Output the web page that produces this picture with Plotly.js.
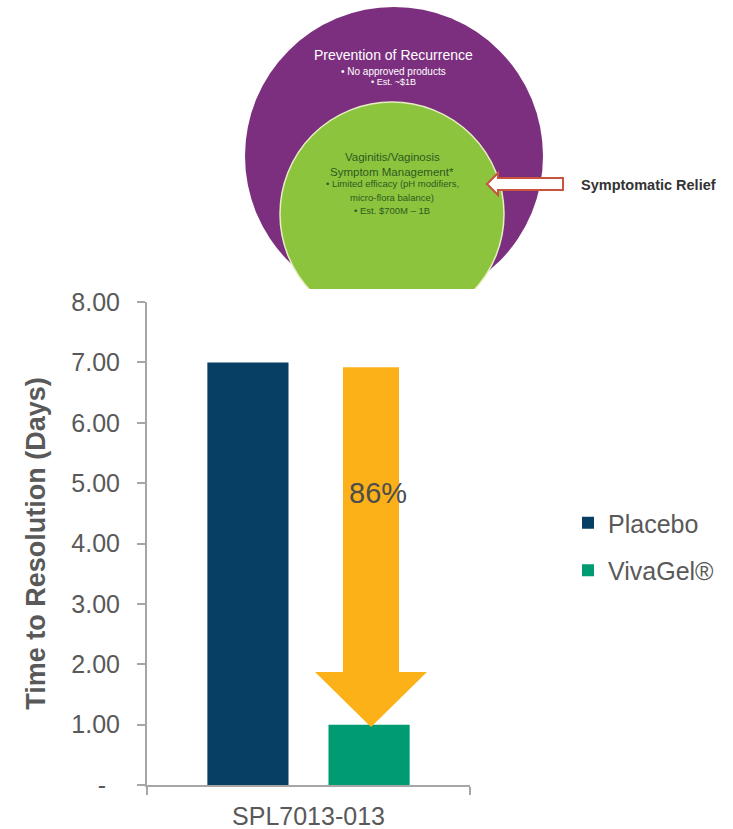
<!DOCTYPE html>
<html>
<head>
<meta charset="utf-8">
<script src="https://cdn.plot.ly/plotly-3.0.1.min.js"></script>
<style>html,body{margin:0;padding:0;background:#fff;}#chart{width:733px;height:829px;}</style>
</head>
<body>
<div id="chart"></div>
<script>
// ---- data ----
const categories = ['SPL7013-013'];
const seriesNames = ['Placebo', 'VivaGel®'];
const placeboValues = [7.00];
const vivagelValues = [1.00];
const yTickVals = [0, 1, 2, 3, 4, 5, 6, 7, 8];
const yTickText = ['-\u00a0\u00a0', '1.00', '2.00', '3.00', '4.00', '5.00', '6.00', '7.00', '8.00'];
const yAxisTitle = 'Time to Resolution (Days)';
const outerCircleText = ['Prevention of Recurrence', '• No approved products', '• Est. ~$1B'];
const innerCircleText = ['Vaginitis/Vaginosis', 'Symptom Management*', '• Limited efficacy (pH modifiers,', 'micro-flora balance)', '• Est. $700M – 1B'];
const calloutText = 'Symptomatic Relief';

// ---- layout helpers ----
const W = 733, H = 829;
const px = x => x / W;
const py = y => 1 - y / H;
const FONT = 'Liberation Sans, Arial, sans-serif';
const GREY = '#595959';

const reduction = Math.round((placeboValues[0] - vivagelValues[0]) / placeboValues[0] * 100) + '%';

// arrow (decorative) in axis units, anchored to bar values
const aCx = 0.1935, aShaft = 0.0867, aHead = 0.1734;
const aTop = placeboValues[0] - 0.08, aTip = vivagelValues[0] - 0.04, aBase = vivagelValues[0] + 0.87;
const arrowPath = 'M' + (aCx - aShaft) + ',' + aTop + ' L' + (aCx + aShaft) + ',' + aTop +
  ' L' + (aCx + aShaft) + ',' + aBase + ' L' + (aCx + aHead) + ',' + aBase +
  ' L' + aCx + ',' + aTip + ' L' + (aCx - aHead) + ',' + aBase +
  ' L' + (aCx - aShaft) + ',' + aBase + ' Z';

function pathPx(pts) {
  return pts.map((p, i) => (i ? 'L' : 'M') + px(p[0]) + ',' + py(p[1])).join(' ') + ' Z';
}

const traces = [
  {type: 'bar', name: seriesNames[0], x: categories, y: placeboValues, marker: {color: '#063f63'}, legendgroup: 'a', hoverinfo: 'none'},
  {type: 'bar', name: seriesNames[1], x: categories, y: vivagelValues, marker: {color: '#009b72'}, legendgroup: 'b', hoverinfo: 'none'}
];

const shapes = [
  {type: 'circle', xref: 'paper', yref: 'paper', x0: px(245), x1: px(543), y0: py(305), y1: py(7), fillcolor: '#7c2f7f', line: {width: 0}, layer: 'above'},
  {type: 'circle', xref: 'paper', yref: 'paper', x0: px(280), x1: px(504), y0: py(326), y1: py(102), fillcolor: '#8cc43e', line: {width: 1.5, color: '#e6efc4'}, layer: 'above'},
  {type: 'rect', xref: 'paper', yref: 'paper', x0: px(200), x1: px(600), y0: py(332), y1: py(289), fillcolor: '#ffffff', line: {width: 0}, layer: 'above'},
  {type: 'path', xref: 'paper', yref: 'paper', path: pathPx([[487,184],[498,173],[498,178],[563,178],[563,190],[498,190],[498,195]]), fillcolor: '#ffffff', line: {width: 2, color: '#c9533d'}, layer: 'above'},
  {type: 'path', xref: 'x', yref: 'y', path: arrowPath, fillcolor: '#fbb117', line: {width: 0}, layer: 'above'}
];

const annotations = [];
const outerY = [55, 71, 82], outerS = [14, 10, 9];
outerCircleText.forEach((t, i) => annotations.push({xref: 'paper', yref: 'paper', x: px(393), y: py(outerY[i]), text: t, showarrow: false, font: {family: FONT, size: outerS[i], color: '#ffffff'}, xanchor: 'center', yanchor: 'middle'}));
const innerY = [157, 172, 184, 197, 210], innerS = [11.5, 11.5, 9.5, 9.5, 9.5];
innerCircleText.forEach((t, i) => annotations.push({xref: 'paper', yref: 'paper', x: px(392), y: py(innerY[i]), text: t, showarrow: false, font: {family: FONT, size: innerS[i], color: '#2f5a1f'}, xanchor: 'center', yanchor: 'middle'}));
annotations.push({xref: 'paper', yref: 'paper', x: px(579), y: py(185), text: '<b>' + calloutText + '</b>', showarrow: false, font: {family: FONT, size: 14.5, color: '#333333'}, xanchor: 'left', yanchor: 'middle'});
annotations.push({xref: 'x', yref: 'y', x: 0.215, y: 4.84, text: reduction, showarrow: false, font: {family: FONT, size: 29, color: '#4d4d4d'}, xanchor: 'center', yanchor: 'middle'});

const layout = {
  width: W, height: H,
  margin: {l: 0, r: 0, t: 0, b: 0},
  paper_bgcolor: '#ffffff', plot_bgcolor: '#ffffff',
  font: {family: FONT, color: GREY},
  barmode: 'group', bargap: 0.25, bargroupgap: 0.33,
  xaxis: {
    domain: [px(147), px(470)], type: 'category', automargin: false,
    showline: true, linecolor: '#a6a6a6', linewidth: 2,
    ticks: 'outside', tickson: 'boundaries', ticklen: 8, tickwidth: 2, tickcolor: '#a6a6a6', ticklabelstandoff: 8,
    tickfont: {family: FONT, size: 25, color: GREY}, showgrid: false, zeroline: false, fixedrange: true
  },
  yaxis: {
    domain: [py(785), py(302)], range: [0, 8], automargin: false,
    tickvals: yTickVals, ticktext: yTickText,
    showline: true, linecolor: '#a6a6a6', linewidth: 2,
    ticks: 'outside', ticklen: 8, tickwidth: 2, tickcolor: '#a6a6a6', ticklabelstandoff: 12,
    tickfont: {family: FONT, size: 25, color: GREY}, showgrid: false, zeroline: false, fixedrange: true,
    title: {text: '<b>' + yAxisTitle + '</b>', font: {family: FONT, size: 27, color: GREY}, standoff: 18}
  },
  showlegend: true,
  legend: {x: px(568), y: py(500), xanchor: 'left', yanchor: 'top', font: {family: FONT, size: 25, color: GREY}, tracegroupgap: 12, traceorder: 'grouped', bgcolor: 'rgba(0,0,0,0)'},
  shapes: shapes,
  annotations: annotations
};

Plotly.newPlot('chart', traces, layout, {displayModeBar: false, staticPlot: true});
</script>
</body>
</html>
